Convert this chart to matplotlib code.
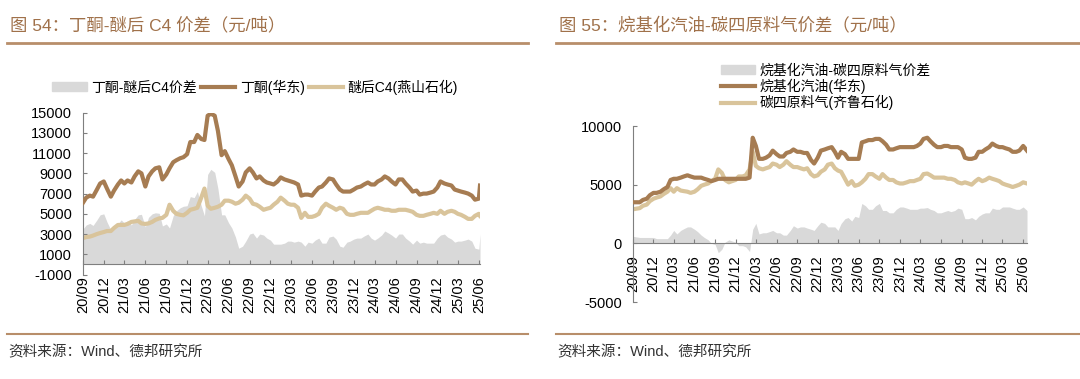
import matplotlib
matplotlib.use("Agg")
import matplotlib.pyplot as plt
import matplotlib.dates as mdates
from matplotlib.lines import Line2D
from matplotlib.patches import Patch
import numpy as np
import pandas as pd

plt.rcParams['font.family'] = ['Liberation Sans', 'Noto Sans CJK SC']
plt.rcParams['axes.unicode_minus'] = False

# semi-monthly sample dates (1st / 15th), plus last available day
dates_l = list(pd.date_range('2020-09-01', '2025-06-01', freq='SMS')) + [pd.Timestamp('2025-06-06')]
dates_r = list(pd.date_range('2020-09-01', '2025-06-01', freq='SMS')) + [pd.Timestamp('2025-06-18')]

# fig 54: butanone (East China) vs. post-ether C4 (Yanshan), yuan/t
butanone = [6100, 6600, 6800, 6700, 7400, 8000, 8200, 7500, 6700, 7300,
            7900, 8300, 8000, 8300, 8100, 8700, 9200, 9000, 7700, 8700,
            9200, 9500, 9600, 8400, 8900, 9500, 10100, 10300, 10500, 10600,
            10900, 12100, 12100, 12800, 12400, 12300, 14700, 14900, 14700, 13200,
            10800, 11200, 10400, 9800, 8700, 7700, 8200, 9100, 9500, 9100,
            8500, 8700, 8300, 8100, 8000, 7900, 8200, 8600, 8400, 8300,
            8200, 8100, 7900, 6800, 6900, 6900, 6800, 7200, 7600, 7700,
            8100, 8500, 8400, 7900, 7400, 7200, 7200, 7200, 7400, 7600,
            7700, 7900, 8100, 7900, 7900, 8200, 8400, 8700, 8500, 8200,
            7900, 8400, 8400, 8000, 7600, 7200, 7300, 6900, 7000, 7000,
            7100, 7200, 7600, 8200, 8000, 7900, 7800, 7400, 7300, 7200,
            7100, 7000, 6800, 6400, 6500, 7800]
c4_yanshan = [2600, 2700, 2750, 2850, 3000, 3100, 3200, 3300, 3300, 3600,
              3900, 3900, 3900, 4000, 4200, 4250, 4300, 4050, 4000, 4050,
              4200, 4400, 4550, 4600, 4900, 5900, 5300, 5000, 4900, 4850,
              5100, 5400, 5500, 5600, 6600, 7500, 5800, 5500, 5600, 5700,
              5900, 6300, 6300, 6200, 6000, 6100, 6400, 6800, 6500, 6000,
              5900, 5700, 5400, 5500, 5600, 5900, 6200, 6600, 6300, 6000,
              5900, 5900, 5600, 4600, 5100, 4700, 4700, 4800, 5000, 5600,
              6000, 5800, 5600, 5400, 5600, 5500, 5000, 4900, 4900, 5000,
              5100, 5100, 5100, 5300, 5500, 5600, 5500, 5400, 5400, 5300,
              5300, 5400, 5400, 5400, 5300, 5200, 4900, 4800, 4800, 4900,
              5000, 5100, 5000, 5300, 5000, 5200, 5300, 5200, 5000, 4900,
              4700, 4500, 4500, 4800, 5000, 4800]

# fig 55: alkylate gasoline (East China) vs. C4 feed gas (Qilu), yuan/t
alkylate = [3500, 3500, 3500, 3700, 3800, 4100, 4300, 4300, 4400, 4600,
            4800, 5400, 5500, 5500, 5600, 5700, 5800, 5700, 5600, 5600,
            5600, 5500, 5400, 5300, 5400, 5500, 5500, 5500, 5500, 5500,
            5500, 5500, 5500, 5500, 5600, 9000, 8300, 7200, 7200, 7300,
            7500, 7900, 7600, 7400, 7400, 7700, 7800, 8000, 7800, 7800,
            7700, 7700, 7100, 6800, 7300, 7900, 8000, 8100, 8200, 7800,
            7300, 7800, 7600, 7200, 7200, 7200, 7200, 8600, 8700, 8800,
            8800, 8900, 8900, 8700, 8400, 8000, 8000, 8100, 8200, 8200,
            8200, 8200, 8200, 8300, 8500, 8900, 9000, 8700, 8400, 8200,
            8200, 8300, 8300, 8200, 8200, 8200, 8000, 7300, 7200, 7200,
            7300, 7800, 7800, 8000, 8200, 8500, 8300, 8200, 8200, 8100,
            8000, 7800, 7800, 7900, 8300, 7900]
c4_qilu = [2900, 2950, 3000, 3200, 3300, 3600, 3800, 3900, 4000, 4200,
           4400, 4700, 4400, 4700, 4500, 4450, 4400, 4300, 4400, 4600,
           4900, 5000, 5100, 5300, 5500, 6300, 6000, 5400, 5200, 5300,
           5400, 5700, 5700, 5800, 6300, 7800, 6600, 6400, 6300, 6400,
           6500, 6800, 6700, 6500, 6700, 7000, 6700, 6500, 6500, 6400,
           6300, 6400, 5900, 5700, 5800, 6100, 6300, 6700, 6800, 6400,
           6200, 6100, 5500, 5000, 5300, 4900, 5000, 5200, 5500, 5900,
           5900, 5700, 5500, 5900, 5600, 5400, 5400, 5200, 5100, 5100,
           5200, 5300, 5300, 5400, 5500, 5900, 5950, 5800, 5600, 5600,
           5600, 5600, 5500, 5500, 5400, 5200, 5100, 5200, 5100, 5000,
           5300, 5500, 5300, 5400, 5600, 5500, 5400, 5300, 5100, 5000,
           4900, 4800, 4900, 5000, 5200, 5100]

spread_l = np.array(butanone) - np.array(c4_yanshan)
spread_r = np.array(alkylate) - np.array(c4_qilu)

DARK = '#A67C52'
LIGHT = '#D9C49B'
GREY = '#D9D9D9'
TITLE_C = '#A0714A'
RULE_C = '#B88E6A'
AXIS_C = '#7F7F7F'

W, H = 1080, 379
fig = plt.figure(figsize=(W / 100, H / 100), dpi=100)

qticks = pd.date_range('2020-09-01', '2025-06-01', freq='3MS')


def panel(rect, dates, a, b, spread, ylim, yticks):
    ax = fig.add_axes(rect)
    ax.fill_between(dates, 0, spread, color=GREY, lw=0, zorder=1)
    ax.plot(dates, a, color=DARK, lw=3, zorder=3, solid_joinstyle='round')
    ax.plot(dates, b, color=LIGHT, lw=3, zorder=2, solid_joinstyle='round')
    ax.set_ylim(*ylim)
    ax.set_yticks(yticks)
    ax.set_xlim(dates[0], dates[-1])
    ax.set_xticks(qticks)
    ax.xaxis.set_major_formatter(mdates.DateFormatter('%y/%m'))
    for s in ['top', 'right']:
        ax.spines[s].set_visible(False)
    # horizontal axis crosses at zero
    ax.spines['bottom'].set_position(('data', 0))
    for s in ['left', 'bottom']:
        ax.spines[s].set_color(AXIS_C)
        ax.spines[s].set_linewidth(0.8)
    ax.tick_params(axis='x', direction='in', length=3, color=AXIS_C,
                   labelsize=10.5, rotation=90, pad=8.5)
    ax.tick_params(axis='y', direction='in', length=3, color=AXIS_C,
                   labelsize=10.5, pad=8)
    return ax


ax1 = panel([83 / W, 1 - 274.5 / H, (480 - 83) / W, (274.5 - 112.7) / H],
            dates_l, butanone, c4_yanshan, spread_l, (-1000, 15000), range(-1000, 15001, 2000))
ax2 = panel([633 / W, 1 - 302 / H, (1027 - 633) / W, (302 - 126) / H],
            dates_r, alkylate, c4_qilu, spread_r, (-5000, 10000), range(-5000, 10001, 5000))

# legends
h1 = [Patch(color=GREY), Line2D([], [], color=DARK, lw=3), Line2D([], [], color=LIGHT, lw=3)]
fig.legend(h1, ['丁酮-醚后C4价差', '丁酮(华东)', '醚后C4(燕山石化)'],
           loc='center', bbox_to_anchor=(255 / W, 1 - 87 / H), ncol=3, frameon=False,
           fontsize=10, handlelength=2.5, handletextpad=0.3, columnspacing=0.3,
           handleheight=0.6)
fig.legend(h1, ['烷基化汽油-碳四原料气价差', '烷基化汽油(华东)', '碳四原料气(齐鲁石化)'],
           loc='center left', bbox_to_anchor=(708 / W, 1 - 87 / H), ncol=1, frameon=False,
           fontsize=10, handlelength=2.5, handletextpad=0.3, labelspacing=0.08,
           handleheight=0.6)

# titles, rules, source notes
for x0, x1, title in [(7, 528, '图 54：丁酮-醚后 C4 价差（元/吨）'),
                      (556, 1080, '图 55：烷基化汽油-碳四原料气价差（元/吨）')]:
    fig.text((x0 + 3) / W, 1 - 25 / H, title, color=TITLE_C, fontsize=12.5,
             va='center', ha='left')
    fig.add_artist(Line2D([x0 / W, x1 / W], [1 - 43 / H] * 2, color=RULE_C, lw=2))
    fig.add_artist(Line2D([x0 / W, x1 / W], [1 - 334 / H] * 2, color=RULE_C, lw=1.5))
    fig.text((x0 + 1) / W, 1 - 352 / H, '资料来源：Wind、德邦研究所', color='#333333',
             fontsize=10.5, va='center', ha='left')

fig.savefig('out.png', dpi=100)
